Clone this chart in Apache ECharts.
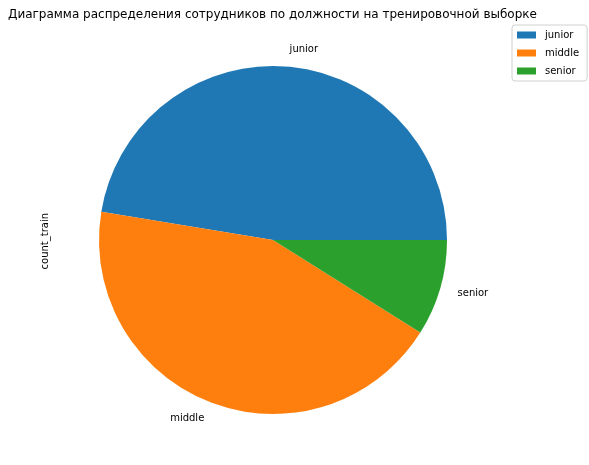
<!DOCTYPE html>
<html lang="ru">
<head>
<meta charset="UTF-8">
<title>pie</title>
<style>
  html, body { margin: 0; padding: 0; background: #fff; }
  #chart { width: 589px; height: 465px; }
</style>
</head>
<body>
<div id="chart"></div>
<script src="https://cdn.jsdelivr.net/npm/echarts@6/dist/echarts.min.js"></script>
<script>
  // данные
  const categories = ['junior', 'middle', 'senior'];
  const counts = [1894, 1745, 357];
  const colors = ['#1f77b4', '#ff7f0e', '#2ca02c'];
  const title = 'Диаграмма распределения сотрудников по должности на тренировочной выборке';
  const yLabel = 'count_train';

  const chart = echarts.init(document.getElementById('chart'));
  const font = 'DejaVu Sans';

  chart.setOption({
    animation: false,
    textStyle: { fontFamily: font },
    title: {
      text: title,
      left: 3,
      top: 4,
      textStyle: { fontSize: 12, fontWeight: 'normal', color: '#000', fontFamily: font }
    },
    legend: {
      orient: 'vertical',
      left: 512,
      top: 25,
      itemWidth: 19,
      itemHeight: 7,
      itemGap: 8,
      padding: [5, 8, 5, 5],
      borderColor: '#d0d0d0',
      borderWidth: 1,
      borderRadius: 3,
      icon: 'rect',
      textStyle: { fontSize: 10, color: '#000', fontFamily: font, padding: [0, 0, 0, 4] },
      data: categories
    },
    graphic: [{
      type: 'text',
      left: 40,
      top: 213,
      rotation: Math.PI / 2,
      style: { text: yLabel, fontSize: 10, fill: '#000', fontFamily: font }
    }],
    series: [{
      type: 'pie',
      center: [273, 240],
      radius: 174,
      startAngle: 0,
      clockwise: false,
      avoidLabelOverlap: false,
      color: colors,
      label: {
        show: true,
        position: 'outside',
        fontSize: 10,
        color: '#000',
        fontFamily: font
      },
      // matplotlib ставит подписи на 1.1 r, без отступа
      labelLine: { show: false, length: 17, length2: -4 },
      emphasis: { disabled: true },
      data: categories.map((c, i) => ({ name: c, value: counts[i] }))
    }]
  });
</script>
</body>
</html>
